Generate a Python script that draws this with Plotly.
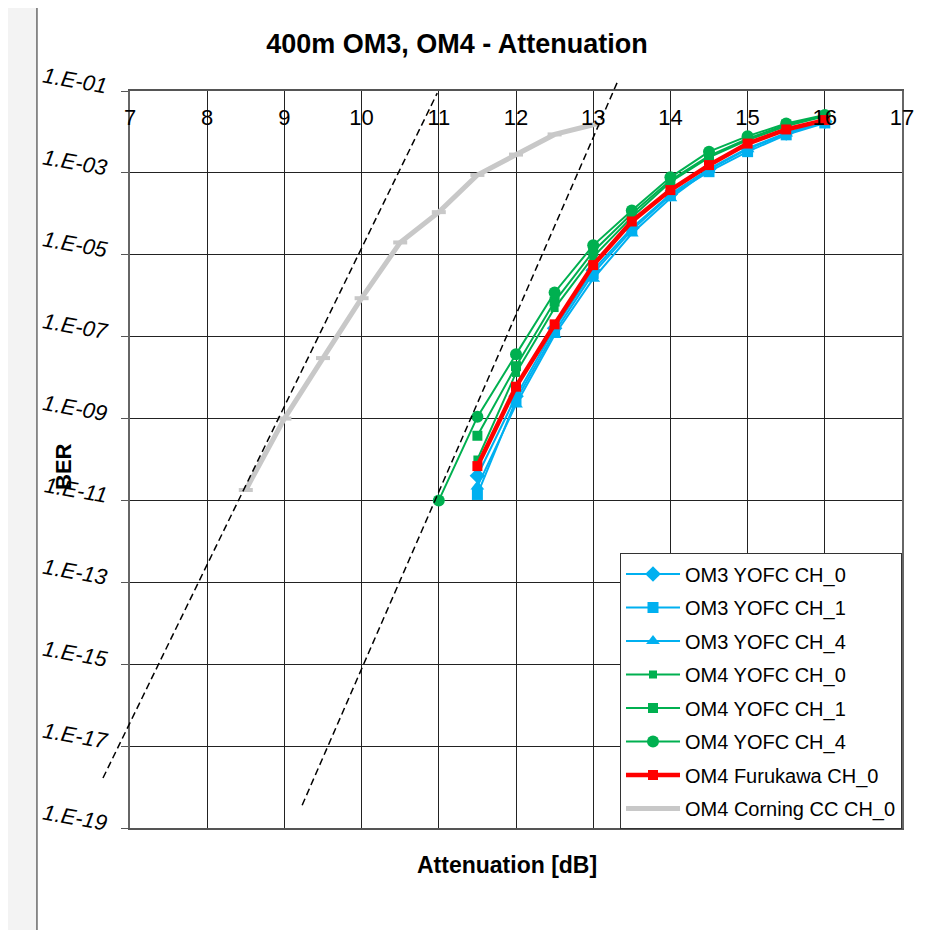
import math
import plotly.graph_objects as go

# ---------------- data ----------------
x_main = [11.5, 12, 12.5, 13, 13.5, 14, 14.5, 15, 15.5, 16]
x_om4_ch4 = [11, 11.5, 12, 12.5, 13, 13.5, 14, 14.5, 15, 15.5, 16]
x_corning = [8.5, 9, 9.5, 10, 10.5, 11, 11.5, 12, 12.5, 13]

om3_ch0 = [4.0e-11, 3.5e-9, 1.6e-7, 4.2e-6, 4.5e-5, 3.0e-4, 1.26e-3, 4.0e-3, 9.5e-3, 1.8e-2]
om3_ch1 = [1.4e-11, 2.8e-9, 1.3e-7, 3.5e-6, 4.0e-5, 2.8e-4, 1.07e-3, 3.3e-3, 8.5e-3, 1.66e-2]
om3_ch4 = [2.2e-11, 2.2e-9, 1.1e-7, 2.6e-6, 3.3e-5, 2.4e-4, 1.2e-3, 3.8e-3, 9.1e-3, 1.74e-2]
om4_ch0 = [1.0e-10, 1.3e-8, 5.0e-7, 8.9e-6, 8.3e-5, 6.0e-4, 2.4e-3, 6.3e-3, 1.4e-2, 2.4e-2]
om4_ch1 = [3.8e-10, 1.9e-8, 7.2e-7, 1.2e-5, 1.0e-4, 6.6e-4, 2.6e-3, 6.8e-3, 1.5e-2, 2.5e-2]
om4_ch4 = [1.0e-11, 1.1e-9, 3.7e-8, 1.2e-6, 1.7e-5, 1.2e-4, 7.8e-4, 3.3e-3, 7.9e-3, 1.6e-2, 2.6e-2]
furukawa = [6.9e-11, 6.0e-9, 2.0e-7, 5.6e-6, 6.5e-5, 3.8e-4, 1.55e-3, 5.2e-3, 1.15e-2, 1.95e-2]
corning = [1.8e-11, 1.0e-9, 3.0e-8, 8.7e-7, 2.0e-5, 1.1e-4, 8.9e-4, 2.8e-3, 8.7e-3, 1.5e-2]

# reference (dashed) lines: (attenuation, BER) start and end
ref_line_1 = [(6.65, 1.66e-18), (10.98, 8.9e-2)]
ref_line_2 = [(9.23, 3.6e-19), (13.31, 1.6e-1)]

y_tickvals = [1e-1, 1e-3, 1e-5, 1e-7, 1e-9, 1e-11, 1e-13, 1e-15, 1e-17, 1e-19]
y_ticktext = ["1.E-01", "1.E-03", "1.E-05", "1.E-07", "1.E-09", "1.E-11",
              "1.E-13", "1.E-15", "1.E-17", "1.E-19"]
x_tickvals = [7, 8, 9, 10, 11, 12, 13, 14, 15, 16, 17]

X_RANGE = [7, 17]
Y_RANGE_LOG = [-19, -1]

FONT = "Liberation Sans, Arial, sans-serif"
BLUE = "#00B0F0"
GREEN = "#00B050"
RED = "#FF0000"
GRAY = "#C8C8C8"

fig = go.Figure()

series = [
    ("OM3 YOFC CH_0", x_main, om3_ch0, BLUE, "diamond", 12, 2),
    ("OM3 YOFC CH_1", x_main, om3_ch1, BLUE, "square", 11, 2),
    ("OM3 YOFC CH_4", x_main, om3_ch4, BLUE, "triangle-up", 12, 2),
    ("OM4 YOFC CH_0", x_main, om4_ch0, GREEN, "square", 8, 2),
    ("OM4 YOFC CH_1", x_main, om4_ch1, GREEN, "square", 10, 2),
    ("OM4 YOFC CH_4", x_om4_ch4, om4_ch4, GREEN, "circle", 12, 2),
    ("OM4 Furukawa CH_0", x_main, furukawa, RED, "square", 10, 4.5),
]
for i, (name, xs, ys, col, sym, msz, lw) in enumerate(series):
    fig.add_trace(go.Scatter(
        x=xs, y=ys, name=name, mode="lines+markers",
        line=dict(color=col, width=lw),
        marker=dict(symbol=sym, size=msz, color=col),
        legendgroup=f"g{i}",
    ))

fig.add_trace(go.Scatter(
    x=x_corning, y=corning, name="OM4 Corning CC CH_0", mode="lines+markers",
    line=dict(color=GRAY, width=5),
    marker=dict(symbol="line-ew", size=10, line=dict(color=GRAY, width=4)),
    legendgroup="g7",
))

# dashed reference lines (domain refs so they are not clipped)
def to_dom(pt):
    x, y = pt
    fx = (x - X_RANGE[0]) / (X_RANGE[1] - X_RANGE[0])
    fy = (math.log10(y) - Y_RANGE_LOG[0]) / (Y_RANGE_LOG[1] - Y_RANGE_LOG[0])
    return fx, fy

for ln in (ref_line_1, ref_line_2):
    (ax0, ay0), (ax1, ay1) = to_dom(ln[0]), to_dom(ln[1])
    fig.add_shape(type="line", xref="x domain", yref="y domain",
                  x0=ax0, y0=ay0, x1=ax1, y1=ay1,
                  line=dict(color="black", width=1.5, dash="7px,4px"), layer="above")

# chart area frame (white with border on light-gray page)
fig.add_shape(type="rect", xref="paper", yref="paper",
              x0=-0.1205, y0=-0.15, x1=1.06, y1=1.1167,
              fillcolor="white", line=dict(color="#222", width=1), layer="below")

fig.update_layout(
    width=939, height=930,
    margin=dict(l=122, r=45, t=83, b=110),
    paper_bgcolor="#F3F3F3",
    plot_bgcolor="white",
    font=dict(family=FONT, color="black"),
    title=dict(text="<b>400m OM3, OM4 - Attenuation</b>", x=0.4236, xref="paper",
               xanchor="center", y=0.962, yanchor="middle",
               font=dict(size=27, family=FONT, color="black")),
    showlegend=True,
    legend=dict(x=1, xanchor="right", y=-0.002, yanchor="bottom",
                bgcolor="white", bordercolor="#333", borderwidth=1,
                font=dict(size=20, family=FONT, color="black"), tracegroupgap=4.5,
                itemwidth=54),
    xaxis=dict(range=X_RANGE, tickvals=x_tickvals, side="top",
               ticklabelposition="inside", ticks="", ticklabelstandoff=20,
               ticklabeloverflow="allow",
               showgrid=True, gridcolor="#222", gridwidth=1,
               showline=True, linecolor="#555", linewidth=2, mirror=True,
               zeroline=False, tickfont=dict(size=22, family=FONT, color="black")),
    yaxis=dict(type="log", range=Y_RANGE_LOG, tickvals=y_tickvals, ticktext=y_ticktext,
               ticks="outside", ticklen=7, tickcolor="#555", tickwidth=1,
               tickangle=10, ticklabelshift=-5, ticklabelstandoff=9,
               ticklabeloverflow="allow",
               showgrid=True, gridcolor="#222", gridwidth=1,
               showline=True, linecolor="#666", linewidth=2, mirror=True,
               zeroline=False,
               tickfont=dict(size=22, family=FONT, style="italic", color="black")),
)

fig.add_annotation(text="<b>Attenuation [dB]</b>", xref="paper", yref="paper",
                   x=0.488, y=-0.050, xanchor="center", yanchor="middle", showarrow=False,
                   font=dict(size=23, family=FONT, color="black"))
fig.add_annotation(text="<b>BER</b>", xref="paper", yref="paper",
                   x=-0.087, y=0.491, xanchor="center", yanchor="middle",
                   showarrow=False, textangle=-90,
                   font=dict(size=22, family=FONT, color="black"))

fig.write_html("out.html")
